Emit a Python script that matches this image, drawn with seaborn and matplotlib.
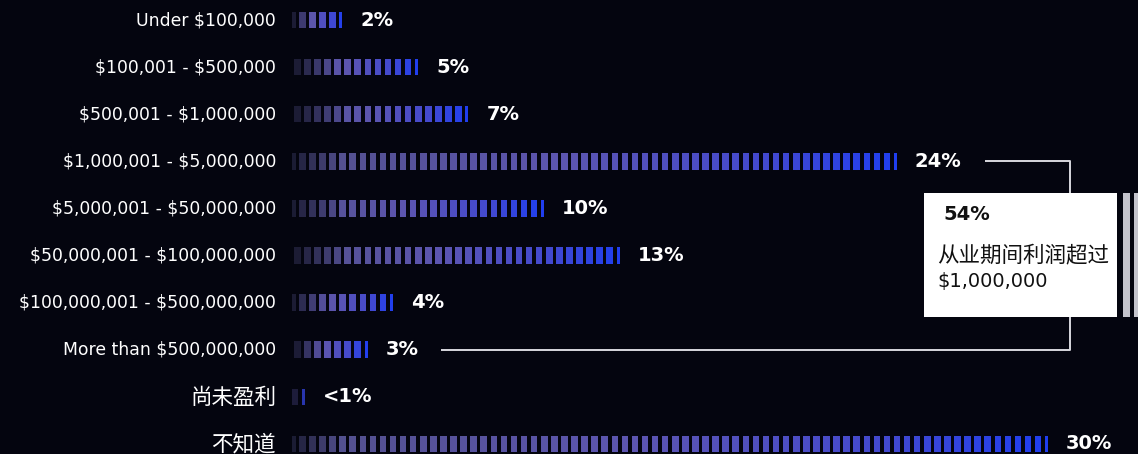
import numpy as np
import matplotlib
matplotlib.use("Agg")
import matplotlib.pyplot as plt
from matplotlib.colors import to_rgb
import seaborn as sns

# Profit ranges over the business lifetime and share of respondents (%)
categories = [
    "Under $100,000",
    "$100,001 - $500,000",
    "$500,001 - $1,000,000",
    "$1,000,001 - $5,000,000",
    "$5,000,001 - $50,000,000",
    "$50,000,001 - $100,000,000",
    "$100,000,001 - $500,000,000",
    "More than $500,000,000",
    "尚未盈利",
    "不知道",
]
values = [2, 5, 7, 24, 10, 13, 4, 3, 0.5, 30]
value_labels = ["2%", "5%", "7%", "24%", "10%", "13%", "4%", "3%", "<1%", "30%"]

callout_share = "54%"
callout_lines = ["从业期间利润超过", "$1,000,000"]

BG = "#04050f"
FONT = ["DejaVu Sans", "Noto Sans CJK SC"]
CJK = ["Noto Sans CJK SC", "DejaVu Sans"]

sns.set_theme(style="dark")
plt.rcParams["font.family"] = FONT
plt.rcParams["text.parse_math"] = False

fig = plt.figure(figsize=(11.38, 4.54), dpi=100, facecolor=BG)
ax = fig.add_axes([0, 0, 1, 1])
ax.set_facecolor(BG)

# 1 percentage point = 25.2 px, bars start at x = 292 px
X0 = 292
PX = 25.2
ax.set_xlim(-X0 / PX, (1138 - X0) / PX)
ROW = 47.1
ax.set_ylim((454 - 20) / ROW, -20 / ROW)
ax.axis("off")

# colour ramp along each bar: grey-violet -> violet -> vivid blue
stops_t = [0.0, 0.45, 0.78, 1.0]
stops_c = [to_rgb(c) for c in ["#52508a", "#5c55b0", "#4349cf", "#1f3ef0"]]
bg_rgb = np.array(to_rgb(BG))


def ramp(t):
    return np.array([np.interp(t, stops_t, [c[k] for c in stops_c]) for k in range(3)])


PITCH = 0.4     # one segment per 0.4 percentage points
SEG_W = 0.26
CAP_W = 0.12    # thin cap segment at the end of each bar
BAR_H = 0.35


def segments(v):
    """Segment spans laid out backwards from the bar end, clipped at 0."""
    spans = [(v - CAP_W, v)]
    right = v - CAP_W - (PITCH - SEG_W)
    while right > 0.02:
        spans.append((max(0.0, right - SEG_W), right))
        right -= PITCH
    return spans[::-1]


for row, v in enumerate(values):
    spans = segments(v)
    n = len(spans)
    fade_n = max(1.5, min(5.0, n * 0.3))
    lefts, widths, colors = [], [], []
    for i, (a, b) in enumerate(spans):
        t = (a + b) / 2 / v
        fade = min(1.0, 0.3 + 0.7 * i / fade_n)
        colors.append(bg_rgb + (ramp(t) - bg_rgb) * fade)
        lefts.append(a)
        widths.append(b - a)
    ax.barh([row] * n, widths, left=lefts, height=BAR_H, color=colors,
            align="center", linewidth=0)
    ax.text(v + 18 / PX, row, value_labels[row], color="white",
            fontsize=14, fontweight="bold", va="center", ha="left")
    is_cjk = any(ord(ch) > 0x2E80 for ch in categories[row])
    ax.text(-16 / PX, row + (0.02 if is_cjk else 0), categories[row],
            color="white", fontsize=15.5 if is_cjk else 12.4,
            family=CJK if is_cjk else FONT, va="center", ha="right")


def px_x(px):
    return (px - X0) / PX


def px_y(py):
    return (py - 20) / ROW


# bracket linking the 24% and 3% rows to the callout box
line_kw = dict(color="#d8d8de", lw=1.4, solid_capstyle="butt")
ax.plot([px_x(985), px_x(1070), px_x(1070)], [3, 3, px_y(193)], **line_kw)
ax.plot([px_x(1070), px_x(1070), px_x(441)], [px_y(317), 7, 7], **line_kw)

# callout box
ax.add_patch(plt.Rectangle((px_x(924), px_y(193)), (1117 - 924) / PX,
                           (317 - 193) / ROW, facecolor="white",
                           edgecolor="none", zorder=3))
for x0, x1 in [(1123, 1130), (1134, 1140)]:
    ax.add_patch(plt.Rectangle((px_x(x0), px_y(193)), (x1 - x0) / PX,
                               (317 - 193) / ROW, facecolor="#c4c4cc",
                               edgecolor="none", zorder=3))
ax.text(px_x(943), px_y(215), callout_share, color="#111111", fontsize=14,
        fontweight="bold", va="center", ha="left", zorder=4)
ax.text(px_x(937), px_y(255), callout_lines[0], color="#111111", fontsize=15.5,
        fontweight="medium", va="center", ha="left", family=CJK, zorder=4)
ax.text(px_x(937), px_y(281), callout_lines[1], color="#111111", fontsize=14,
        va="center", ha="left", zorder=4)

fig.savefig("out.png", dpi=100, facecolor=BG)
